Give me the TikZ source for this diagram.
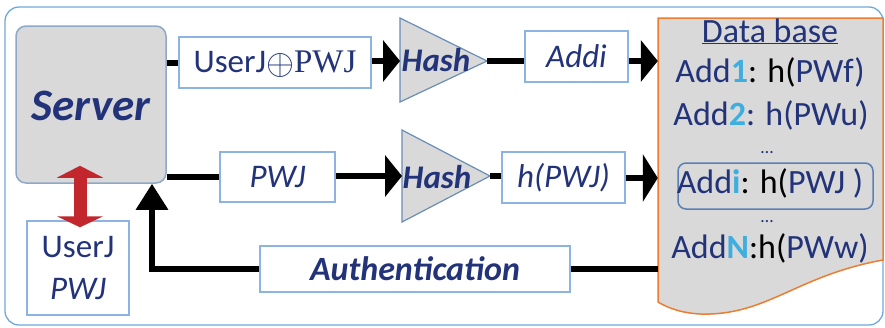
\documentclass[tikz,border=0pt]{standalone}
\usepackage{fontspec}
\usepackage{graphicx}
\setmainfont{Carlito}
\newfontfamily\xorfont{Liberation Serif}
\usetikzlibrary{arrows.meta}
\definecolor{navy}{HTML}{22337A}
\definecolor{digit}{HTML}{3DAEE0}
\definecolor{boxblue}{HTML}{8DB3E2}
\definecolor{servline}{HTML}{8FA8C8}
\definecolor{triline}{HTML}{6A8DB8}
\definecolor{panel}{HTML}{D9D9D9}
\definecolor{outerblue}{HTML}{6FA8DC}
\definecolor{dbline}{HTML}{ED7D31}
\definecolor{pickline}{HTML}{5A7FB5}
\definecolor{swapred}{HTML}{C1272D}
\newcommand{\xorsign}{\raisebox{-2pt}{\resizebox{28pt}{!}{$\oplus$}}}
\begin{document}
\begin{tikzpicture}[x=1pt,y=-1pt,
  txtbox/.style={draw=boxblue, line width=1.5pt, fill=white, inner sep=0pt,
    text=navy, font=\fontsize{33}{38}\selectfont},
  hashbox/.style={draw=triline, line width=1.2pt, fill=panel},
  link/.style={line width=6pt, black},
  headon/.style={-{Triangle[length=17pt,width=41pt]}},
  dbtext/.style={anchor=base, inner sep=0pt, text=navy, font=\fontsize{34}{40}\selectfont},
  dots/.style={anchor=base, inner sep=0pt, text=navy, font=\fontsize{18}{20}\selectfont},
  hashtext/.style={inner sep=0pt, text=navy, font=\fontsize{33}{38}\selectfont\bfseries\itshape}]
\useasboundingbox (0,0) rectangle (885,327);

% outer frame
\draw[outerblue, line width=1.3pt, rounded corners=14pt] (5,7) rectangle (883,325);

% server
\node[draw=servline, line width=1.5pt, fill=panel, rounded corners=10pt,
  minimum width=150pt, minimum height=157pt, inner sep=0pt] (server) at (91,104.5) {};
\node[anchor=base, inner sep=0pt, text=navy, font=\fontsize{45}{50}\selectfont\bfseries\itshape]
  (servertext) at (91,120) {Server};

% credentials held by the user
\node[txtbox, minimum width=102pt, minimum height=94pt, align=center,
  font=\fontsize{33}{42}\selectfont] (cred) at (78,268) {UserJ\\\itshape PWJ};

% upper row boxes
\node[txtbox, minimum width=192pt, minimum height=51pt] (xorbox) at (275,62.5) {};
\node[anchor=base, inner sep=0pt, text=navy, font=\fontsize{33}{38}\selectfont]
  (xortext) at (275,72) {UserJ\xorsign{\xorfont PWJ}};
\node[txtbox, minimum width=103pt, minimum height=51pt, font=\fontsize{33}{38}\selectfont\itshape]
  (addi) at (576.5,56.5) {Addi};

% lower row boxes
\node[txtbox, minimum width=115pt, minimum height=50pt, font=\fontsize{33}{38}\selectfont\itshape]
  (pw) at (277.5,177) {PWJ};
\node[txtbox, minimum width=123pt, minimum height=51pt, font=\fontsize{33}{38}\selectfont\itshape]
  (hpw) at (563.5,177.5) {h(PWJ)};

% authentication box
\node[txtbox, minimum width=310pt, minimum height=46pt, font=\fontsize{34}{38}\selectfont\bfseries\itshape]
  (auth) at (415,269) {Authentication};

% hash blocks
\draw[hashbox] (400,18) coordinate (h1top) -- (487,61) coordinate (h1e) -- (400,102) -- cycle;
\coordinate (h1w) at (400,61);
\node[hashtext] (hash1) at (436,60) {Hash};
\draw[hashbox] (402,130) -- (490,176) coordinate (h2e) -- (402,222) -- cycle;
\coordinate (h2w) at (402,176);
\node[hashtext] (hash2) at (437,177) {Hash};

% database sheet
\node[inner sep=0pt, minimum width=225pt, minimum height=282pt] (db) at (770.5,159) {};
\draw[dbline, line width=1.5pt, fill=panel]
  (658,18) -- (883,18) -- (883,260)
  .. controls (800,275) and (770,312) .. (710,314)
  .. controls (685,315) and (668,308) .. (658,302) -- cycle;
\node[dbtext] (dbtitle) at (770,42) {\underline{Data base}};
\node[dbtext] (row1) at (770,82) {Add{\bfseries\color{digit}1}\textcolor{black}{: h(}PWf)};
\node[dbtext] (row2) at (771,125) {Add{\bfseries\color{digit}2}: h(PWu)};
\node[dots] (dots1) at (767,153) {…};
\node[draw=pickline, line width=1.5pt, rounded corners=8pt, minimum width=195pt,
  minimum height=46pt, inner sep=0pt] (pick) at (775.5,186) {};
\node[dbtext] (rowi) at (770,193) {Add{\bfseries\color{digit}i}\textcolor{black}{ : h(}PWJ )};
\node[dots] (dots2) at (767,222) {…};
\node[dbtext] (rowN) at (770,258) {Add{\bfseries\color{digit}N}\textcolor{black}{:h(}PWw)};

% upper flow
\draw[link] (server.east |- xorbox.west) -- (xorbox.west);
\draw[link, headon] (xorbox.east |- h1w) -- (h1w);
\draw[link] (h1e) -- (h1e -| addi.west);
\draw[link, headon] (addi.east |- h1e) -- (h1e -| db.west);

% lower flow
\draw[link] (server.east |- pw.west) -- (pw.west);
\draw[link, headon] (pw.east |- h2w) -- (h2w);
\draw[link] (h2e) -- (h2e -| hpw.west);
\draw[link, {-Triangle[length=15pt,width=47pt]}] (hpw.east |- 0,178) -- (db.west |- 0,178);

% authentication result back to the server
\draw[link] (db.west |- auth.east) -- (auth.east);
\draw[link, -{Triangle[length=26pt,width=31pt]}, line join=miter]
  (auth.west) -| ([xshift=61pt]server.south);

% exchange between user and server
\draw[swapred, line width=13pt,
  {Triangle[length=12pt,width=46pt]}-{Triangle[length=11pt,width=46pt]}]
  ([xshift=-11pt,yshift=18pt]server.south) -- ([xshift=2pt,yshift=-7pt]cred.north);
\end{tikzpicture}
\end{document}
